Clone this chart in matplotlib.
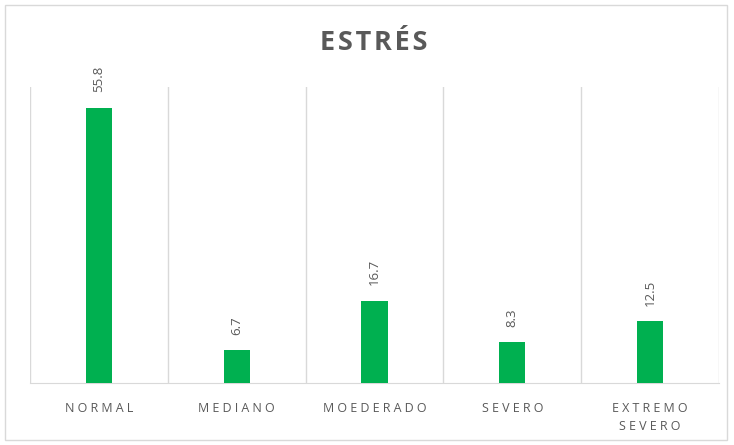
import matplotlib
matplotlib.use("Agg")
import matplotlib.pyplot as plt
from matplotlib.patches import Rectangle

categories = ["NORMAL", "MEDIANO", "MOEDERADO", "SEVERO", "EXTREMO\nSEVERO"]
values = [55.8, 6.7, 16.7, 8.3, 12.5]
title = "ESTRÉS"

plt.rcParams['font.family'] = ['Open Sans', 'DejaVu Sans']
GRAY = "#595959"
GREEN = "#00B050"
GRID = "#D9D9D9"

def spaced(s, sep):
    return "\n".join(sep.join(line) for line in s.split("\n"))

fig = plt.figure(figsize=(7.34, 4.45), dpi=100)
fig.patches.append(Rectangle((5/734, 5/445), 722/734, 435/445, transform=fig.transFigure,
                             fill=False, edgecolor=GRID, linewidth=1.0))
ax = fig.add_axes([30/734, 62/445, 689/734, 296/445])

x = list(range(len(categories)))
bars = ax.bar(x, values, width=0.19, color=GREEN, zorder=3)
ax.set_xlim(-0.5, len(categories) - 0.5)
ax.set_ylim(0, 60)

for xi, v in zip(x, values):
    ax.annotate(f"{v}", (xi, v), xytext=(0, 11), textcoords="offset points",
                rotation=90, ha="center", va="bottom", fontsize=9.5, color=GRAY)

for b in [i - 0.5 for i in range(len(categories) + 1)]:
    ax.axvline(b, color=GRID, linewidth=1.0, zorder=1)

ax.set_xticks(x)
ax.set_xticklabels([spaced(c, "\u2005") for c in categories], fontsize=9, color=GRAY, linespacing=1.45)
ax.tick_params(axis="x", length=0, pad=14)
ax.set_yticks([])
for side in ["left", "right", "top"]:
    ax.spines[side].set_visible(False)
ax.spines["bottom"].set_color(GRID)

fig.text(374/734, 1 - 43/445, spaced(title, "\u200a"), ha="center", va="center", fontsize=19.5,
         fontweight="bold", color=GRAY)

fig.savefig("out.png", dpi=100)
